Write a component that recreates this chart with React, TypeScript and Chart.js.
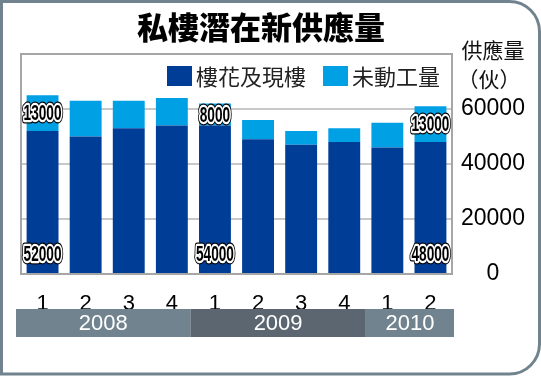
import React, { useEffect, useRef } from "react";
import { Chart, registerables } from "chart.js";

Chart.register(...registerables);

const titleText = "私樓潛在新供應量";
const yAxisTitle = ["供應量", "（伙）"];
const quarters = ["1", "2", "3", "4", "1", "2", "3", "4", "1", "2"];
const years = ["2008", "2009", "2010"];
const yearSpans = [4, 4, 2];
const seriesNames = ["樓花及現樓", "未動工量"];
const darkValues = [52000, 50000, 53000, 54000, 54000, 49000, 47000, 48000, 46000, 48000];
const lightValues = [13000, 13000, 10000, 10000, 8000, 7000, 5000, 5000, 9000, 13000];
const yTicks = [0, 20000, 40000, 60000];
const labeledBars = [0, 4, 9];

const DARK = "#003d96";
const LIGHT = "#00a0e4";
const FRAME = "#71838e";
const SANS = "'Liberation Sans', Arial, sans-serif";
const CJK = "'Noto Sans CJK TC', 'Noto Sans CJK SC', sans-serif";

function drawOutlined(ctx: CanvasRenderingContext2D, text: string, x: number, y: number) {
  ctx.save();
  ctx.translate(x, y);
  ctx.scale(0.62, 1);
  ctx.font = `bold 22px ${SANS}`;
  ctx.textAlign = "center";
  ctx.textBaseline = "middle";
  ctx.lineJoin = "round";
  ctx.strokeStyle = "#000";
  ctx.lineWidth = 7;
  ctx.strokeText(text, 0, 0);
  ctx.strokeStyle = "#fff";
  ctx.lineWidth = 4.5;
  ctx.strokeText(text, 0, 0);
  ctx.fillStyle = "#000";
  ctx.fillText(text, 0, 0);
  ctx.restore();
}

const decorPlugin = {
  id: "decor",
  beforeDraw(chart: any) {
    const ctx = chart.ctx as CanvasRenderingContext2D;
    ctx.save();
    ctx.fillStyle = "#fff";
    ctx.fillRect(0, 0, chart.width, chart.height);
    ctx.strokeStyle = FRAME;
    ctx.lineWidth = 3;
    ctx.beginPath();
    (ctx as any).roundRect(1.5, 1.5, chart.width - 3, chart.height - 3.5, [0, 30, 30, 0]);
    ctx.stroke();
    ctx.restore();
  },
  afterDatasetsDraw(chart: any) {
    const ctx = chart.ctx as CanvasRenderingContext2D;
    const a = chart.chartArea;
    ctx.save();
    ctx.strokeStyle = "#a6a6a6";
    ctx.lineWidth = 2;
    ctx.strokeRect(a.left, a.top, a.right - a.left, a.bottom - a.top);
    ctx.restore();

    const m0 = chart.getDatasetMeta(0);
    const m1 = chart.getDatasetMeta(1);
    labeledBars.forEach((i) => {
      const b0 = m0.data[i];
      const b1 = m1.data[i];
      drawOutlined(ctx, String(darkValues[i]), b0.x, a.bottom - 19);
      drawOutlined(ctx, String(lightValues[i]), b1.x, (b1.y + b1.base) / 2 + 1);
    });

    // legend
    ctx.save();
    ctx.font = `22px ${CJK}`;
    ctx.textBaseline = "middle";
    ctx.textAlign = "left";
    const colors = [DARK, LIGHT];
    const boxX = [167, 323];
    const ly = 76;
    seriesNames.forEach((n, k) => {
      ctx.fillStyle = colors[k];
      ctx.fillRect(boxX[k], ly - 10, 25, 20);
      ctx.fillStyle = "#222";
      ctx.fillText(n, boxX[k] + 29, ly + 1);
    });
    ctx.restore();
  },
  afterDraw(chart: any) {
    const ctx = chart.ctx as CanvasRenderingContext2D;
    const a = chart.chartArea;
    const xs = chart.scales.x;
    ctx.save();
    // title
    ctx.fillStyle = "#000";
    ctx.font = `900 31px ${CJK}`;
    ctx.textAlign = "center";
    ctx.textBaseline = "middle";
    ctx.fillText(titleText, 261, 27);
    // y axis title
    ctx.font = `21px ${CJK}`;
    ctx.fillStyle = "#111";
    ctx.fillText(yAxisTitle[0], 493, 50);
    ctx.fillText(yAxisTitle[1], 489, 79);
    // year bands
    const step = (a.right - a.left) / quarters.length;
    const bandColors = ["#71838e", "#5b6670", "#71838e"];
    let start = 0;
    let prevX = a.left - 5;
    years.forEach((yr, k) => {
      const x0 = prevX;
      const end = start + yearSpans[k];
      const x1 = k === years.length - 1 ? a.right + 2 : xs.left + end * step - (k === 0 ? 3 : 0);
      ctx.fillStyle = bandColors[k];
      ctx.fillRect(x0, 309, x1 - x0, 28);
      ctx.fillStyle = "#fff";
      ctx.font = `22px ${SANS}`;
      ctx.fillText(yr, (x0 + x1) / 2, 324);
      start = end;
      prevX = x1;
    });
    ctx.restore();
  },
};

export default function App() {
  const ref = useRef<HTMLCanvasElement | null>(null);
  useEffect(() => {
    document.body.style.margin = "0";
    if (!ref.current) return;
    const chart = new Chart(ref.current, {
      type: "bar",
      data: {
        labels: quarters,
        datasets: [
          { label: seriesNames[0], data: darkValues, backgroundColor: DARK, borderWidth: 0 },
          { label: seriesNames[1], data: lightValues, backgroundColor: LIGHT, borderWidth: 0 },
        ],
      },
      options: {
        responsive: false,
        animation: false,
        layout: { padding: { left: 21, top: 54, right: 0, bottom: 66 } },
        datasets: { bar: { categoryPercentage: 1, barPercentage: 0.74 } },
        plugins: { legend: { display: false }, title: { display: false }, tooltip: { enabled: false } },
        scales: {
          x: {
            stacked: true,
            grid: { display: false },
            border: { display: false },
            ticks: { color: "#000", font: { family: SANS, size: 22 }, padding: 9 },
            afterFit: (s: any) => { s.height = 36; },
          },
          y: {
            position: "right",
            stacked: true,
            min: 0,
            max: 80000,
            afterBuildTicks: (s: any) => {
              s.ticks = [...yTicks, 80000].map((v) => ({ value: v }));
            },
            ticks: {
              color: "#000",
              font: { family: SANS, size: 23 },
              padding: 9,
              crossAlign: "center",
              callback: (v: any) => (yTicks.includes(Number(v)) ? String(v) : ""),
            },
            grid: { color: "#c8c8c8", lineWidth: 2, drawTicks: false },
            border: { display: false },
            afterFit: (s: any) => { s.width = 89; },
          },
        },
      } as any,
      plugins: [decorPlugin],
    });
    return () => chart.destroy();
  }, []);
  return (
    <div style={{ position: "absolute", left: 0, top: 0, width: 541, height: 376 }}>
      <canvas ref={ref} width={541} height={376} style={{ width: 541, height: 376 }} />
    </div>
  );
}
